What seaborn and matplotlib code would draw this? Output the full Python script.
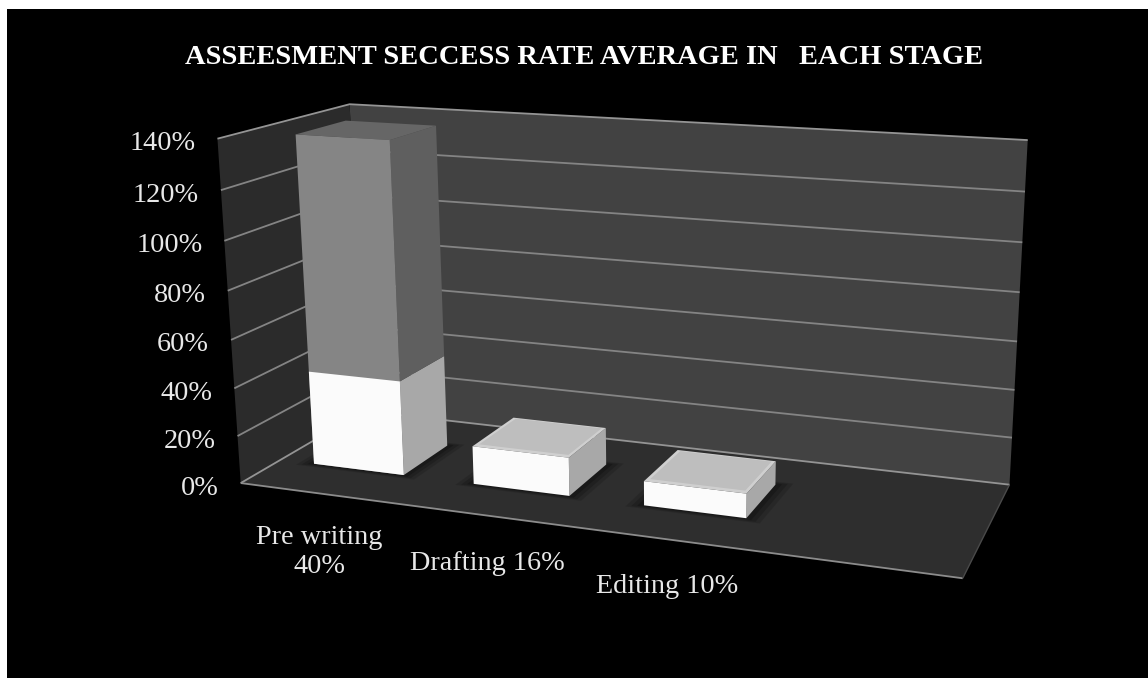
import numpy as np
import pandas as pd
import matplotlib
matplotlib.use("Agg")
import matplotlib.pyplot as plt
from matplotlib.patches import Polygon, Rectangle
from matplotlib.transforms import Affine2D, Transform
import seaborn as sns

# ---- data ----
stages = ["Pre writing\n40%", "Drafting 16%", "Editing 10%"]
rates = [0.40, 0.16, 0.10]
upper = [0.98, 0.0, 0.0]
axis_ticks = [0.0, 0.2, 0.4, 0.6, 0.8, 1.0, 1.2, 1.4]
title = "ASSEESMENT SECCESS RATE AVERAGE IN   EACH STAGE"

# ---- layout ----
W, H = 1148, 678
SLOTS = 4
BAR_WIDTH = 0.57
Z_FRONT, Z_BACK = 0.30, 0.69
Y_MAX = axis_ticks[-1]
label_drop = [31, 35, 35]
# camera calibration: chart box corner -> pixel
calib = [((0, 0, 0), (239, 483)), ((1, 0, 0), (963, 578)), ((0, 0, 1), (366, 411)),
         ((1, 0, 1), (1009, 485)), ((0, Y_MAX, 0), (219, 139)),
         ((0, Y_MAX, 1), (348, 104)), ((1, Y_MAX, 1), (1028, 140))]
A, b = [], []
for (X, Y, Z), (u, v) in calib:
    A.append([X, Y, Z, 1, 0, 0, 0, 0, -u * X, -u * Y, -u * Z]); b.append(u)
    A.append([0, 0, 0, 0, X, Y, Z, 1, -v * X, -v * Y, -v * Z]); b.append(v)
CAM = np.append(np.linalg.lstsq(np.array(A, float), np.array(b, float), rcond=None)[0], 1).reshape(3, 4)


def project(X, Y, Z):
    h = CAM @ np.array([X, Y, Z, 1.0])
    return h[:2] / h[2]


def slot(pos):
    return (pos + 0.5) / SLOTS


class FrontPlane(Transform):
    """Category axis / value axis of the bars -> pixels of the 3-D front plane."""
    input_dims = output_dims = 2
    is_separable = False

    def __init__(self, z):
        super().__init__()
        self.z = z

    def transform_non_affine(self, values):
        values = np.asarray(values, float)
        n = len(values)
        pts = np.column_stack([slot(values[:, 0]), values[:, 1], np.full(n, self.z), np.ones(n)])
        h = pts @ CAM.T
        xy = h[:, :2] / h[:, 2:3]
        return np.column_stack([xy[:, 0], H - xy[:, 1]])


sns.set_theme(style="white")
plt.rcParams["font.family"] = ["Liberation Serif", "DejaVu Serif"]

fig = plt.figure(figsize=(W / 100, H / 100), dpi=100, facecolor="white")
ax = fig.add_axes([0, 0, 1, 1])
ax.set_axis_off()
pix = Affine2D().scale(1, -1).translate(0, H)


def poly(points, color, z, alpha=None):
    ax.add_patch(Polygon(np.array(points), closed=True, facecolor=color, edgecolor="none",
                         linewidth=0, alpha=alpha, transform=pix, zorder=z, clip_on=False))


def line(points, color, lw, z=2):
    p = np.array(points)
    ax.plot(p[:, 0], p[:, 1], color=color, lw=lw, transform=pix, zorder=z, clip_on=False,
            solid_capstyle="butt", scalex=False, scaley=False)


ax.add_patch(Rectangle((7, 9), W - 7, H - 9, facecolor="black", edgecolor="none", transform=pix, zorder=0, clip_on=False))

# walls and floor
poly([project(0, 0, 1), project(1, 0, 1), project(1, Y_MAX, 1), project(0, Y_MAX, 1)], "#424242", 1)
poly([project(0, 0, 0), project(0, 0, 1), project(0, Y_MAX, 1), project(0, Y_MAX, 0)], "#2b2b2b", 1)
poly([project(0, 0, 0), project(1, 0, 0), project(1, 0, 1), project(0, 0, 1)], "#2e2e2e", 1.5)

for t in axis_ticks:
    c = "#949494" if t in (0.0, Y_MAX) else "#848484"
    line([project(0, t, 0), project(0, t, 1), project(1, t, 1)], c, 1.3, 2)
    u, v = project(0, t, 0)
    ax.text(u - 22, v + 5, f"{t * 100:.0f}%", transform=pix, ha="right", va="center",
            fontsize=20.3, color="#e8e8e8", zorder=6)
line([project(0, 0, 0), project(1, 0, 0)], "#8c8c8c", 1.3, 2)
line([project(1, 0, 0), project(1, 0, 1)], "#4a4a4a", 1.0, 2)

# bars: seaborn draws the front faces; they are then placed on the 3-D front plane
frame = pd.DataFrame({"stage": stages, "rate": rates, "upper": upper})
frame["total"] = frame["rate"] + frame["upper"]
tall = frame[frame["upper"] > 0]
start = len(ax.patches)
sns.barplot(data=tall, x="stage", y="total", color="#858585", saturation=1, width=BAR_WIDTH, ax=ax, linewidth=0)
sns.barplot(data=frame, x="stage", y="rate", color="#fbfbfb", saturation=1, width=BAR_WIDTH, ax=ax, linewidth=0)
ax.set_axis_off()

front = FrontPlane(Z_FRONT)
for patch in ax.patches[start:]:
    patch.set_transform(front)
    patch.set_clip_on(False)
    patch.set_zorder(5)

for i, (r, u_) in enumerate(zip(rates, upper)):
    x0, x1 = slot(i - BAR_WIDTH / 2), slot(i + BAR_WIDTH / 2)
    # soft shadow on the floor
    for grow, alpha in ((0.022, 0.18), (0.015, 0.25), (0.008, 0.35)):
        gz = grow * 1.6
        poly([project(x0 - grow, 0, Z_FRONT - gz), project(x1 + grow, 0, Z_FRONT - gz),
              project(x1 + grow, 0, Z_BACK + gz), project(x0 - grow, 0, Z_BACK + gz)], "#0c0c0c", 2.5, alpha)
    # lower (white) block
    poly([project(x1, 0, Z_FRONT), project(x1, 0, Z_BACK), project(x1, r, Z_BACK), project(x1, r, Z_FRONT)], "#a8a8a8", 3)
    if u_ > 0:
        top = r + u_
        poly([project(x1, r, Z_FRONT), project(x1, r, Z_BACK), project(x1, top, Z_BACK), project(x1, top, Z_FRONT)], "#5f5f5f", 3)
        poly([project(x0, top, Z_FRONT), project(x1, top, Z_FRONT), project(x1, top, Z_BACK), project(x0, top, Z_BACK)], "#666666", 3)
    else:
        poly([project(x0, r, Z_FRONT), project(x1, r, Z_FRONT), project(x1, r, Z_BACK), project(x0, r, Z_BACK)], "#cfcfcf", 3)
        dx, dz = 0.005, 0.03
        poly([project(x0 + dx, r, Z_FRONT + dz), project(x1 - dx, r, Z_FRONT + dz),
              project(x1 - dx, r, Z_BACK - dz / 3), project(x0 + dx, r, Z_BACK - dz / 3)], "#bebebe", 3.2)

# labels
for i, s in enumerate(stages):
    u, v = project(slot(i), 0, 0)
    ax.text(u - 1, v + label_drop[i], s, transform=pix, ha="center", va="top", fontsize=20.3,
            color="#e8e8e8", linespacing=1.25, zorder=6)
ax.text(584, 57, title, transform=pix, ha="center", va="center", fontsize=20.5,
        fontweight="bold", color="white", zorder=6)

fig.savefig("out.png", dpi=100, facecolor="white")
